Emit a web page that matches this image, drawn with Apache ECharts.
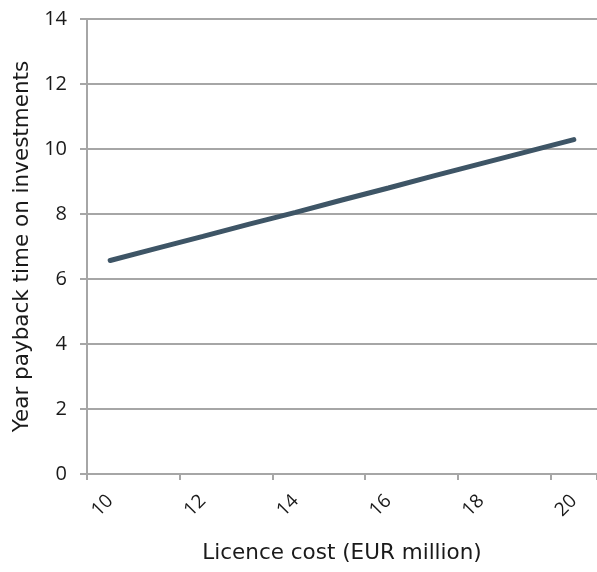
<!DOCTYPE html>
<html>
<head>
<meta charset="utf-8">
<script src="https://cdn.jsdelivr.net/npm/echarts@6/dist/echarts.min.js"></script>
<style>
  html, body { margin: 0; padding: 0; background: #fff; }
  #chart { width: 597px; height: 572px; }
</style>
</head>
<body>
<div id="chart"></div>
<script>
// licence cost categories (EUR million)
const licenceCost = ["10", "11", "12", "13", "14", "15", "16", "17", "18", "19", "20"];
// payback years
const paybackYears = [6.57, 6.94, 7.31, 7.69, 8.05, 8.43, 8.8, 9.18, 9.55, 9.92, 10.29];
const yTicks = [0, 2, 4, 6, 8, 10, 12, 14];

const FONT = "Open Sans";
const NAME_FONT = "DejaVu Sans";
const GRID = "#a6a6a6";

const chart = echarts.init(document.getElementById("chart"));

chart.setOption({
  animation: false,
  textStyle: { fontFamily: FONT },
  grid: { left: 87, right: -1, top: 19, bottom: 98 },
  xAxis: {
    type: "category",
    data: licenceCost,
    boundaryGap: true,
    name: "Licence cost (EUR million)",
    nameLocation: "middle",
    nameGap: 68,
    nameTextStyle: { fontFamily: NAME_FONT, fontSize: 21.5, color: "#1a1a1a" },
    axisLine: { lineStyle: { color: GRID, width: 2 } },
    axisTick: { show: true, interval: 1, length: 6, lineStyle: { color: GRID, width: 2 } },
    axisLabel: {
      interval: 1,
      rotate: 45,
      margin: 24,
      fontFamily: FONT,
      fontSize: 19,
      color: "#1a1a1a",
    },
    splitLine: { show: false },
  },
  yAxis: {
    type: "value",
    min: yTicks[0],
    max: yTicks[yTicks.length - 1],
    interval: 2,
    name: "Year payback time on investments",
    nameLocation: "middle",
    nameGap: 49,
    nameTextStyle: { fontFamily: NAME_FONT, fontSize: 21.5, color: "#1a1a1a" },
    axisLine: { show: true, lineStyle: { color: GRID, width: 2 } },
    axisTick: { show: true, length: 7, lineStyle: { color: GRID, width: 2 } },
    axisLabel: { margin: 20, fontFamily: FONT, fontSize: 20, color: "#1a1a1a" },
    splitLine: { show: true, lineStyle: { color: GRID, width: 2 } },
  },
  series: [
    {
      type: "line",
      data: paybackYears,
      symbol: "none",
      lineStyle: { color: "#3e5566", width: 5, cap: "round" },
    },
  ],
});
</script>
</body>
</html>
